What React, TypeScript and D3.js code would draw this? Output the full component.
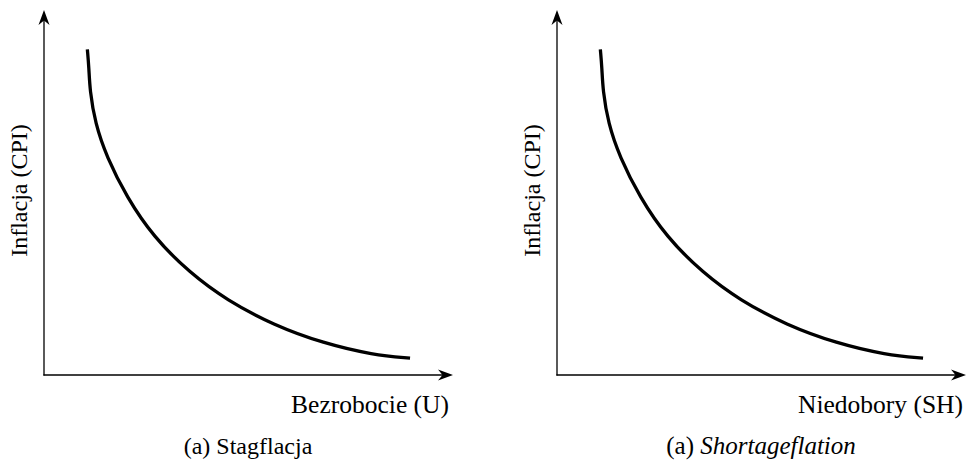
import React, { useEffect, useRef } from 'react';
import * as d3 from 'd3';

// Curve points (axis units 0..100)
const curveX = [10.6, 11.0, 11.2, 12.5, 15.3, 20.2, 26.7, 35.7, 44.7, 56.1, 68.3, 80.5, 89.5];
const curveY = [89.2, 84.0, 78.1, 69.0, 59.8, 48.8, 37.9, 27.9, 20.5, 13.7, 8.7, 5.5, 4.6];

const panels = [
  { xLabel: 'Bezrobocie (U)', captionPrefix: '(a) ', caption: 'Stagflacja', italic: false },
  { xLabel: 'Niedobory (SH)', captionPrefix: '(a) ', caption: 'Shortageflation', italic: true },
];
const yLabel = 'Inflacja (CPI)';

const App: React.FC = () => {
  const svgRef = useRef<SVGSVGElement>(null);

  useEffect(() => {
    if (!svgRef.current) return;
    const width = 967;
    const height = 467;
    const svg = d3.select(svgRef.current)
      .attr('width', width)
      .attr('height', height)
      .html('');

    const font = "'Liberation Serif', 'Times New Roman', 'DejaVu Serif', serif";
    const data = curveX.map((x, i) => ({ x, y: curveY[i] }));

    panels.forEach((p, k) => {
      const left = 44 + k * 513;
      const g = svg.append('g').attr('transform', `translate(${left},0)`);

      const x = d3.scaleLinear().domain([0, 100]).range([0, 409]);
      const y = d3.scaleLinear().domain([0, 100]).range([375, 10]);

      // axes
      g.append('line')
        .attr('x1', x(0)).attr('y1', y(0) + 0.6)
        .attr('x2', x(0)).attr('y2', y(100) + 8)
        .attr('stroke', '#000').attr('stroke-width', 1.3);
      g.append('line')
        .attr('x1', x(0) - 0.6).attr('y1', y(0))
        .attr('x2', x(100) - 8).attr('y2', y(0))
        .attr('stroke', '#000').attr('stroke-width', 1.3);

      // stealth arrowheads
      const head = 'M0,0 L-15,-5.5 L-10.5,0 L-15,5.5 Z';
      g.append('path')
        .attr('d', head)
        .attr('transform', `translate(${x(100)},${y(0)})`)
        .attr('fill', '#000');
      g.append('path')
        .attr('d', head)
        .attr('transform', `translate(${x(0)},${y(100)}) rotate(-90)`)
        .attr('fill', '#000');

      const line = d3.line<{ x: number; y: number }>()
        .x(d => x(d.x))
        .y(d => y(d.y))
        .curve(d3.curveBasis);

      g.append('path')
        .datum(data)
        .attr('fill', 'none')
        .attr('stroke', '#000')
        .attr('stroke-width', 3.3)
        .attr('d', line);

      // labels
      g.append('text')
        .attr('transform', `translate(${x(0) - 17},${y(50) - 2}) rotate(-90)`)
        .attr('text-anchor', 'middle')
        .style('font-family', font)
        .style('font-size', '24px')
        .attr('fill', '#000')
        .text(yLabel);

      g.append('text')
        .attr('x', x(100) - 4 + k * 1)
        .attr('y', 413)
        .attr('text-anchor', 'end')
        .style('font-family', font)
        .style('font-size', '25.5px')
        .attr('fill', '#000')
        .text(p.xLabel);

      const cap = g.append('text')
        .attr('x', 204 + (p.italic ? 0 : 0))
        .attr('y', 454)
        .attr('text-anchor', 'middle')
        .style('font-family', font)
        .style('font-size', p.italic ? '25px' : '24px')
        .attr('fill', '#000');
      cap.append('tspan').text(p.captionPrefix);
      cap.append('tspan')
        .style('font-style', p.italic ? 'italic' : 'normal')
        .text(p.caption);
    });
  }, []);

  return (
    <div style={{ position: 'absolute', left: 0, top: 0 }}>
      <svg ref={svgRef} style={{ display: 'block' }} />
    </div>
  );
};

export default App;
